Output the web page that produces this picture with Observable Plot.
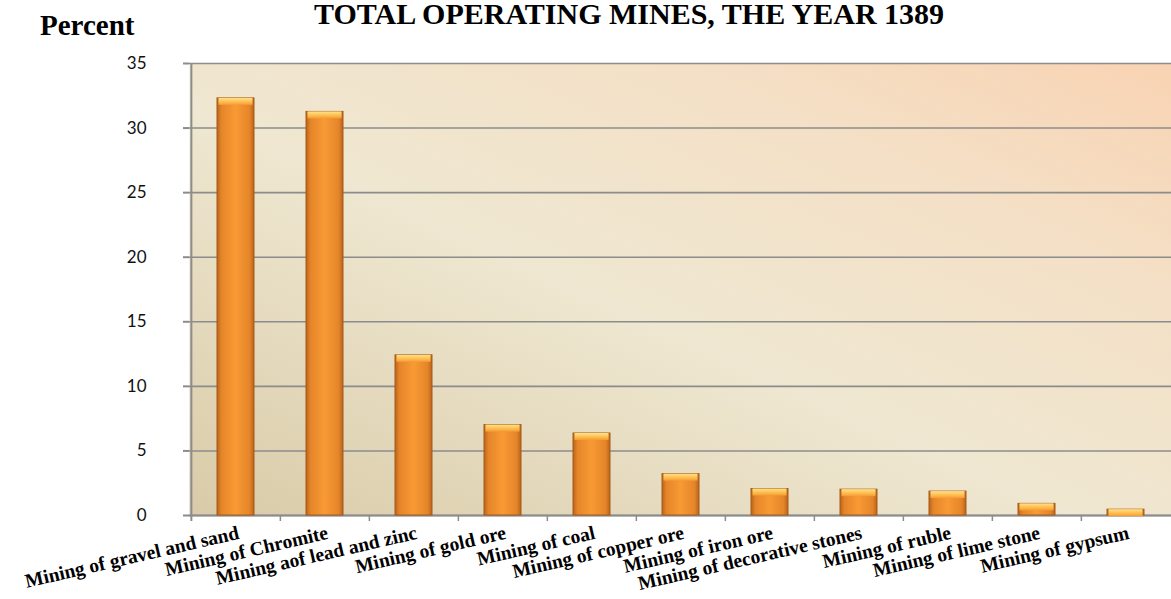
<!DOCTYPE html>
<html>
<head>
<meta charset="utf-8">
<script src="https://cdn.jsdelivr.net/npm/d3@7"></script>
<script src="https://cdn.jsdelivr.net/npm/@observablehq/plot@0.6"></script>
<style>
  html, body { margin: 0; padding: 0; background: #fff; }
  #wrap { position: relative; width: 1171px; height: 599px; overflow: hidden; }
  .title { position: absolute; left: 0; width: 1258px; top: 0px; text-align: center;
           font-family: "Liberation Serif", serif; font-weight: bold; font-size: 30px; line-height: 28px; color: #000; }
  .ylab { position: absolute; left: 40px; top: 11px;
          font-family: "Liberation Serif", serif; font-weight: bold; font-size: 29px; line-height: 28px; color: #000; }
</style>
</head>
<body>
<div id="wrap">
  <div class="title">TOTAL OPERATING MINES, THE YEAR 1389</div>
  <div class="ylab">Percent</div>
</div>
<script>
const categories = [
  "Mining of gravel and sand",
  "Mining of Chromite",
  "Mining aof lead and zinc",
  "Mining of gold ore",
  "Mining of coal",
  "Mining of copper ore",
  "Mining of iron ore",
  "Mining of decorative stones",
  "Mining of ruble",
  "Mining of lime stone",
  "Mining of gypsum"
];
const values = [32.3, 31.25, 12.4, 7.0, 6.35, 3.2, 2.05, 2.0, 1.85, 0.9, 0.45];
const yTicks = [0, 5, 10, 15, 20, 25, 30, 35];

const data = categories.map((c, i) => ({category: c, value: values[i]}));

const W = 1171, H = 599, mL = 189, mR = 0, mT = 63, mB = 84;
const step = (W - mL - mR) / categories.length;
const gray = "#8c8c8c";
const pad = 0.585;

const svg = Plot.plot({
  width: W, height: H,
  marginLeft: mL, marginRight: mR, marginTop: mT, marginBottom: mB,
  style: {background: "transparent", overflow: "visible"},
  x: {domain: categories, paddingInner: pad, paddingOuter: pad / 2, axis: null},
  y: {domain: [0, 35], axis: null},
  marks: [
    Plot.frame({fill: "url(#bgGrad)", stroke: null}),
    Plot.gridY(yTicks, {stroke: gray, strokeOpacity: 1, strokeWidth: 1.6}),
    Plot.ruleY([0], {stroke: gray, strokeWidth: 2}),
    Plot.ruleX([categories[0]], {dx: -step / 2, stroke: gray, strokeWidth: 2, insetBottom: -6}),
    Plot.ruleX(categories.slice(1), {dx: -step / 2, y1: 0, y2: 0, insetBottom: -6, stroke: gray, strokeWidth: 1.5}),
    Plot.axisY({ticks: yTicks, tickSize: 6, tickPadding: 37, fontSize: 17, fontFamily: "Lato, sans-serif",
                stroke: gray, strokeWidth: 2, fill: "#111", label: null}),
    Plot.barY(data, {x: "category", y: "value", fill: "url(#barGrad)", stroke: "#a65a16", strokeWidth: 1}),
    Plot.barY(data, {x: "category", y1: "value", y2: "value", insetBottom: -7, insetLeft: 1.5, insetRight: 1.5,
                     fill: "url(#capGrad)"}),
    Plot.text(categories, {x: d => d, frameAnchor: "bottom", textAnchor: "end", rotate: -13,
                           dx: 4, dy: 23, fontFamily: "Liberation Serif, serif", fontWeight: "bold",
                           fontSize: 19.5, fill: "#000"})
  ]
});

const defs = document.createElementNS("http://www.w3.org/2000/svg", "defs");
defs.innerHTML = `
  <linearGradient id="bgGrad" x1="0" y1="1" x2="1" y2="0">
    <stop offset="0" stop-color="#d9cba8"/>
    <stop offset="0.45" stop-color="#efe7d1"/>
    <stop offset="0.75" stop-color="#f4e0c6"/>
    <stop offset="1" stop-color="#f9d3b3"/>
  </linearGradient>
  <linearGradient id="barGrad" x1="0" y1="0" x2="1" y2="0">
    <stop offset="0" stop-color="#b9641a"/>
    <stop offset="0.12" stop-color="#e5852a"/>
    <stop offset="0.5" stop-color="#f89a34"/>
    <stop offset="0.88" stop-color="#e5852a"/>
    <stop offset="1" stop-color="#b9641a"/>
  </linearGradient>
  <linearGradient id="capGrad" x1="0" y1="0" x2="0" y2="1">
    <stop offset="0" stop-color="#ffe28c"/>
    <stop offset="0.6" stop-color="#fdbb4c"/>
    <stop offset="1" stop-color="#f79a34"/>
  </linearGradient>`;
svg.insertBefore(defs, svg.firstChild);
svg.style.position = "absolute";
svg.style.left = "0";
svg.style.top = "0";
document.getElementById("wrap").prepend(svg);
</script>
</body>
</html>
